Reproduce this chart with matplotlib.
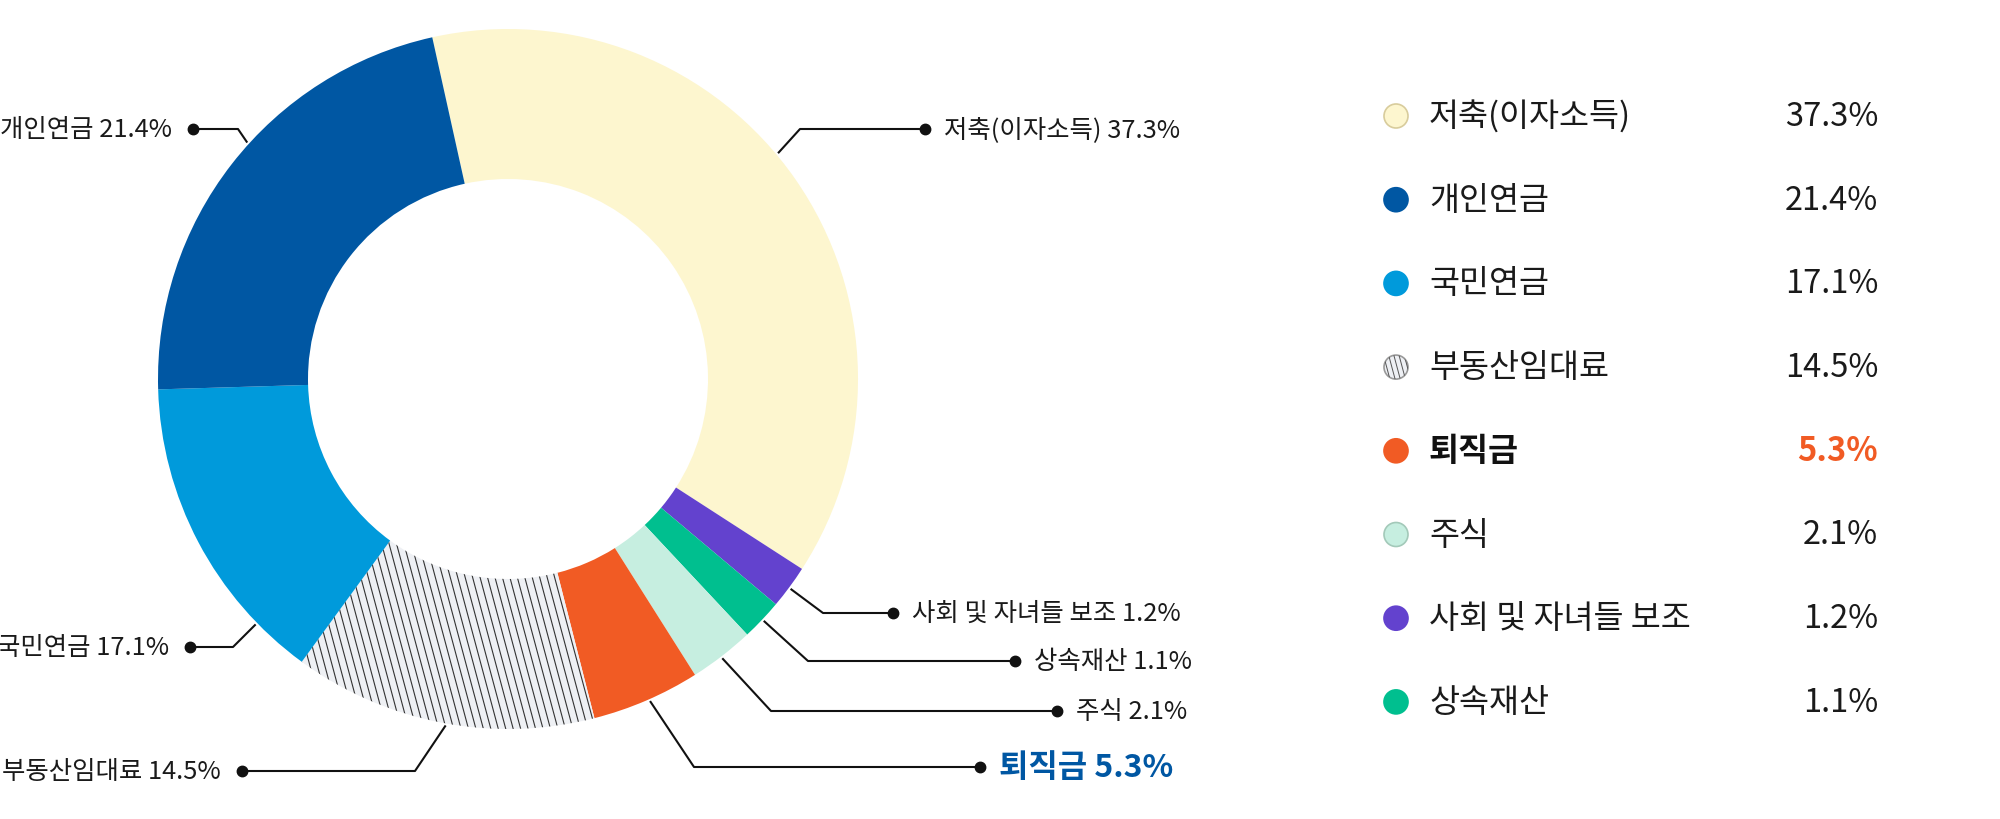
import numpy as np
import matplotlib
matplotlib.use('Agg')
import matplotlib.pyplot as plt
from matplotlib.patches import Circle
from matplotlib.collections import LineCollection

plt.rcParams['font.family'] = ['Noto Sans CJK KR', 'DejaVu Sans']

# ---- data (clockwise from the top) ----
categories = ['저축(이자소득)', '사회 및 자녀들 보조', '상속재산', '주식',
              '퇴직금', '부동산임대료', '국민연금', '개인연금']
shares = [37.3, 1.2, 1.1, 2.1, 5.3, 14.5, 17.1, 21.4]
# arc sizes as the source draws them (small slices are widened there)
slice_sizes = [37.6, 2.0, 1.9, 3.0, 5.0, 14.0, 14.5, 22.0]
legend_order = ['저축(이자소득)', '개인연금', '국민연금', '부동산임대료',
                '퇴직금', '주식', '사회 및 자녀들 보조', '상속재산']
highlight = '퇴직금'

colors = {
    '저축(이자소득)': '#FDF6CF',
    '사회 및 자녀들 보조': '#6342CE',
    '상속재산': '#00BF8F',
    '주식': '#C6EEE0',
    '퇴직금': '#F15B24',
    '부동산임대료': '#EEF0F4',
    '국민연금': '#009ADB',
    '개인연금': '#0057A3',
}
edge_colors = {'저축(이자소득)': '#D8CC9C', '주식': '#A3C9B9', '부동산임대료': '#9A9A9A'}
HATCHED = '부동산임대료'

W, H = 2000, 820
CX, CY = 508, H - 380     # donut centre in pixels
R, RING = 350, 150

# leader line layout: anchor angle on the ring, elbow, dot (y from top), side
leaders = {
    '저축(이자소득)': (39.9, (800, 130), (925, 130), 'right'),
    '개인연금': (137.8, (238, 130), (193, 130), 'left'),
    '국민연금': (224.2, (233, 648), (190, 648), 'left'),
    '부동산임대료': (259.8, (415, 772), (242, 772), 'left'),
    '사회 및 자녀들 보조': (-36.6, (823, 614), (893, 614), 'right'),
    '상속재산': (-43.4, (808, 662), (1015, 662), 'right'),
    '주식': (-52.5, (771, 712), (1057, 712), 'right'),
    '퇴직금': (-66.2, (694, 768), (980, 768), 'right'),
}


def hatch_patch(ax, patch, spacing=7.2, angle=-75, color='#333333', lw=0.8):
    # thin steep lines clipped to a patch
    ext = patch.get_path().get_extents(patch.get_patch_transform())
    cx, cy = (ext.x0 + ext.x1) / 2, (ext.y0 + ext.y1) / 2
    L = max(ext.width, ext.height)
    d = np.array([np.cos(np.radians(angle)), np.sin(np.radians(angle))])
    n = np.array([-d[1], d[0]])
    segs = []
    for t in np.arange(-L, L, spacing):
        c = np.array([cx, cy]) + n * t
        segs.append([c - d * L, c + d * L])
    lc = LineCollection(segs, colors=color, linewidths=lw, zorder=patch.get_zorder() + 0.1)
    ax.add_collection(lc)
    lc.set_clip_path(patch)


fig = plt.figure(figsize=(W / 100, H / 100), dpi=100)
ax = fig.add_axes([0, 0, 1, 1])

wedges, _ = ax.pie(slice_sizes, colors=[colors[c] for c in categories],
                   startangle=102.5, counterclock=False, center=(CX, CY), radius=R,
                   wedgeprops=dict(width=RING, linewidth=0))
hatch_patch(ax, wedges[categories.index(HATCHED)])

# labels around the donut
for cat, val in zip(categories, shares):
    ang, elbow, dot, side = leaders[cat]
    a = np.radians(ang)
    sx, sy = CX + (R + 2) * np.cos(a), CY + (R + 2) * np.sin(a)
    ex, ey = elbow[0], H - elbow[1]
    dx, dy = dot[0], H - dot[1]
    ax.plot([sx, ex, dx], [sy, ey, dy], color='#111111', lw=1.5,
            solid_capstyle='butt', zorder=5)
    ax.plot(dx, dy, 'o', ms=7.5, color='#111111', zorder=6)
    txt = f'{cat} {val}%'
    if cat == highlight:
        kw = dict(fontsize=23, fontweight='bold', color='#0057A3')
    else:
        kw = dict(fontsize=18.3, color='#1a1a1a')
    if side == 'right':
        ax.text(dx + 19, dy, txt, ha='left', va='center', **kw)
    else:
        ax.text(dx - 21, dy, txt, ha='right', va='center', **kw)

# legend on the right
row0, step = 117, 83.7
for i, cat in enumerate(legend_order):
    y = H - (row0 + step * i)
    circ = Circle((1396, y), 12, facecolor=colors[cat],
                  edgecolor=edge_colors.get(cat, colors[cat]), lw=1.2, zorder=5)
    ax.add_patch(circ)
    if cat == HATCHED:
        hatch_patch(ax, circ, spacing=5, color='#555555', lw=0.7)
    val = shares[categories.index(cat)]
    if cat == highlight:
        ax.text(1429, y, cat, fontsize=23.5, fontweight='bold', color='#111111', va='center')
        ax.text(1878, y, f'{val}%', fontsize=23.5, fontweight='bold', color=colors[cat],
                ha='right', va='center')
    else:
        ax.text(1429, y, cat, fontsize=23.5, color='#1a1a1a', va='center')
        ax.text(1878, y, f'{val}%', fontsize=23.5, color='#1a1a1a', ha='right', va='center')

ax.set_xlim(0, W)
ax.set_ylim(0, H)
ax.set_aspect('auto')
ax.axis('off')

fig.savefig('out.png', dpi=100, facecolor='white')
